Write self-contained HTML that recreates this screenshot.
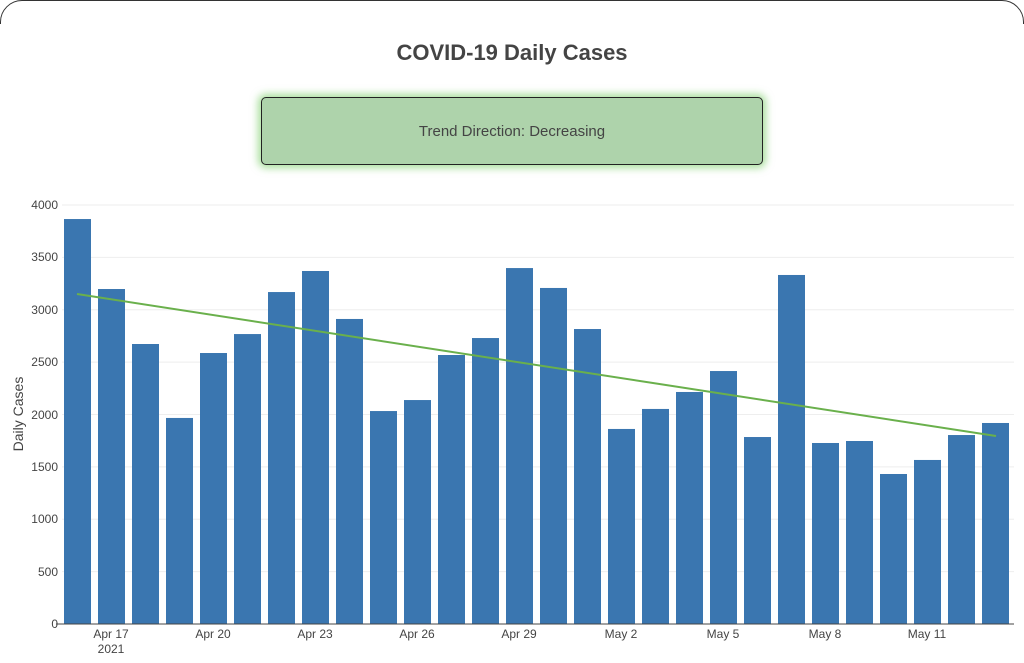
<!DOCTYPE html>
<html style="overflow:hidden"><head><style>
html,body{margin:0;width:1024px;height:663px;overflow:hidden;}
body{background:#fff;position:relative;font-family:"Liberation Sans",sans-serif;}
.clip{position:absolute;left:0;top:0;width:1024px;height:24px;overflow:hidden;}
.frame{position:absolute;left:0;top:0;width:1022px;height:100px;border:1px solid #333;border-radius:22px;}
.box{position:absolute;left:261px;top:97px;width:500px;height:66px;background:#aed3ab;border:1.5px solid #222;border-radius:5px;box-shadow:0 0 8px 3px rgba(110,200,90,0.6);text-align:center;line-height:68px;font-size:15px;color:#444;}
</style></head><body>
<div class="clip"><div class="frame"></div></div>
<svg width="1024" height="663" style="position:absolute;left:0;top:0">
<text x="512" y="60" text-anchor="middle" font-size="22" font-weight="bold" fill="#444" font-family="Liberation Sans">COVID-19 Daily Cases</text>
<g stroke="#eee" stroke-width="1">
<line x1="62" x2="1014" y1="571.6" y2="571.6"/><line x1="62" x2="1014" y1="519.2" y2="519.2"/>
<line x1="62" x2="1014" y1="466.9" y2="466.9"/><line x1="62" x2="1014" y1="414.5" y2="414.5"/>
<line x1="62" x2="1014" y1="362.1" y2="362.1"/><line x1="62" x2="1014" y1="309.7" y2="309.7"/>
<line x1="62" x2="1014" y1="257.4" y2="257.4"/><line x1="62" x2="1014" y1="205" y2="205"/>
</g>
<g fill="#444" font-size="12" text-anchor="end" font-family="Liberation Sans">
<text x="58" y="628">0</text><text x="58" y="576">500</text><text x="58" y="523">1000</text><text x="58" y="471">1500</text><text x="58" y="419">2000</text><text x="58" y="366">2500</text><text x="58" y="314">3000</text><text x="58" y="261">3500</text><text x="58" y="209">4000</text>
</g>
<text transform="translate(23,414) rotate(-90)" text-anchor="middle" font-size="14" fill="#444" font-family="Liberation Sans">Daily Cases</text>
<g fill="#3a76b0" id="bars"></g>
<line x1="62" x2="1014" y1="624" y2="624" stroke="#444" stroke-width="1"/>
<line x1="56" x2="62" y1="624" y2="624" stroke="#444"/>
<line x1="77" y1="294" x2="996" y2="436" stroke="#6ab04c" stroke-width="2"/>
<g fill="#444" font-size="12" text-anchor="middle" font-family="Liberation Sans">
<text x="111" y="638">Apr 17</text><text x="111" y="653">2021</text>
<text x="213" y="638">Apr 20</text><text x="315" y="638">Apr 23</text><text x="417" y="638">Apr 26</text><text x="519" y="638">Apr 29</text><text x="621" y="638">May 2</text><text x="723" y="638">May 5</text><text x="825" y="638">May 8</text><text x="927" y="638">May 11</text>
</g>
</svg>
<div class="box">Trend Direction: Decreasing</div>
<script>
var v=[3866,3198,2673,1967,2587,2768,3169,3370,2912,2033,2138,2568,2730,3398,3208,2816,1862,2053,2215,2415,1785,3332,1728,1747,1432,1566,1804,1919];
var g=document.getElementById('bars'),s='';
v.forEach(function(d,i){var h=d*0.10475;s+='<rect x="'+(64+34*i)+'" y="'+(624-h)+'" width="27" height="'+h+'"/>';});
g.innerHTML=s;
</script>
</body></html>
